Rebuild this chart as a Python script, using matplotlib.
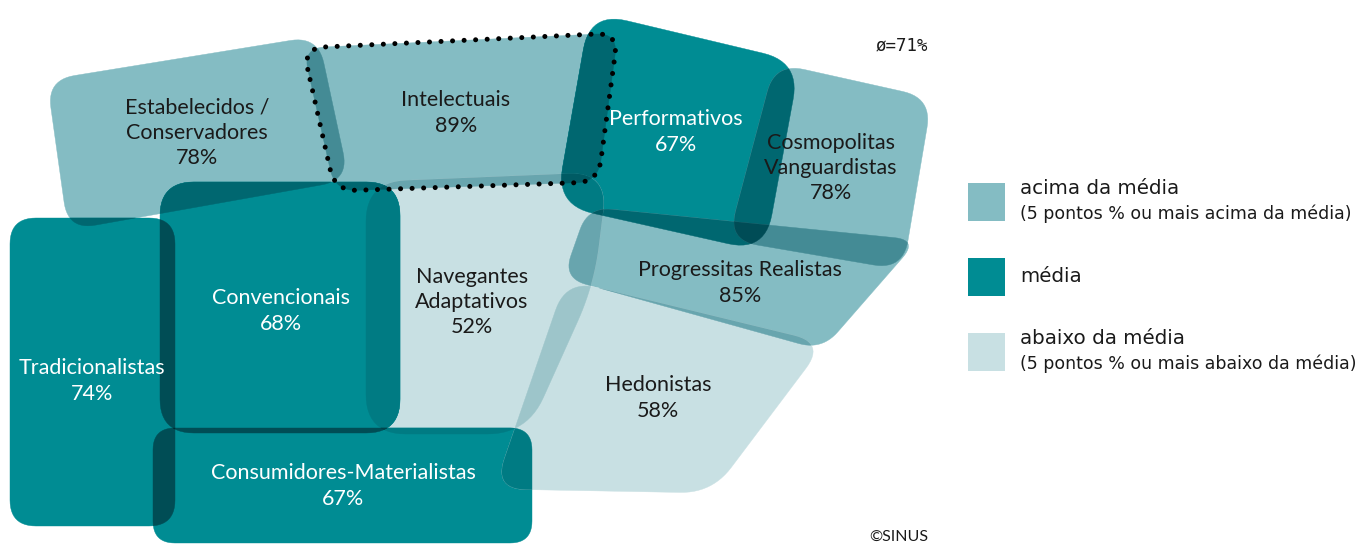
import numpy as np
import matplotlib.pyplot as plt
from matplotlib.patches import Polygon

# ── Data ──────────────────────────────────────────────────────────────────────
MILIEUS = [
    "Estabelecidos /\nConservadores", "Intelectuais", "Performativos",
    "Cosmopolitas\nVanguardistas", "Progressitas Realistas",
    "Navegantes\nAdaptativos", "Convencionais", "Tradicionalistas",
    "Consumidores-Materialistas", "Hedonistas",
]
SHARES = [78, 89, 67, 78, 85, 52, 68, 74, 67, 58]
LEVELS = ["acima", "acima", "media", "acima", "acima",
          "abaixo", "media", "media", "media", "abaixo"]
AVERAGE = 71

# map outline of each milieu (corner points, pixel space of the map)
SHAPES = [
    [(47, 80), (318, 36), (349, 180), (68, 230)],
    [(303, 48), (618, 33), (598, 182), (335, 191)],
    [(590, 12), (800, 62), (765, 252), (556, 205)],
    [(775, 63), (932, 98), (903, 270), (728, 240)],
    [(588, 207), (918, 240), (822, 350), (563, 278)],
    [(366, 182), (608, 172), (594, 285), (527, 434), (366, 434)],
    [(160, 182), (400, 182), (400, 433), (160, 433)],
    [(10, 218), (175, 218), (175, 526), (10, 526)],
    [(153, 428), (532, 428), (532, 543), (153, 543)],
    [(566, 280), (825, 343), (712, 493), (494, 489)],
]
RADII = [28, 22, 38, 30, 24, 40, 34, 26, 22, 32]
LABEL_POS = [(197, 133), (456, 113), (676, 132), (831, 168), (740, 283),
             (472, 302), (281, 311), (92, 381), (343, 486), (658, 398)]
HIGHLIGHT = 1  # Intelectuais

LEGEND = [
    ("acima", "acima da média", "(5 pontos % ou mais acima da média)"),
    ("media", "média", None),
    ("abaixo", "abaixo da média", "(5 pontos % ou mais abaixo da média)"),
]
COLORS = {"acima": "#84bcc3", "media": "#008c93", "abaixo": "#c8e0e3"}
TEXT_COLORS = {"acima": "#1a1a1a", "media": "white", "abaixo": "#1a1a1a"}


# ── Geometry helpers ──────────────────────────────────────────────────────────
def rounded(corners, r, n=14):
    pts = np.array(corners, float)
    out = []
    for i in range(len(pts)):
        a, p, b = pts[i - 1], pts[i], pts[(i + 1) % len(pts)]
        ua = (a - p) / np.linalg.norm(a - p)
        ub = (b - p) / np.linalg.norm(b - p)
        d = min(r, 0.45 * np.linalg.norm(a - p), 0.45 * np.linalg.norm(b - p))
        p1, p2 = p + d * ua, p + d * ub
        t = np.linspace(0, 1, n)[:, None]
        out.append((1 - t) ** 2 * p1 + 2 * (1 - t) * t * p + t ** 2 * p2)
    return np.vstack(out)


def area(poly):
    x, y = poly[:, 0], poly[:, 1]
    return 0.5 * np.sum(x * np.roll(y, -1) - np.roll(x, -1) * y)


def clip(subject, clipper):
    # Sutherland-Hodgman, clipper convex
    sign = np.sign(area(clipper))
    out = list(subject)
    for i in range(len(clipper)):
        if not out:
            break
        c1, c2 = clipper[i], clipper[(i + 1) % len(clipper)]

        def inside(q):
            return sign * ((c2[0] - c1[0]) * (q[1] - c1[1]) - (c2[1] - c1[1]) * (q[0] - c1[0])) >= 0

        def cross(p, q):
            d1 = p - q
            d2 = c1 - c2
            den = d1[0] * d2[1] - d1[1] * d2[0]
            t = ((c1[0] - q[0]) * d2[1] - (c1[1] - q[1]) * d2[0]) / den
            return q + t * d1

        inp, out = out, []
        s = inp[-1]
        for e in inp:
            if inside(e):
                if not inside(s):
                    out.append(cross(s, e))
                out.append(e)
            elif inside(s):
                out.append(cross(s, e))
            s = e
    return np.array(out) if len(out) >= 3 else None


polys = [rounded(c, r) for c, r in zip(SHAPES, RADII)]
rgb = [np.array(plt.matplotlib.colors.to_rgb(COLORS[lv])) for lv in LEVELS]

# every overlap region, coloured by multiplying the layers
regions = []


def collect(idx, poly, start):
    regions.append((idx, poly))
    for j in range(start, len(polys)):
        inter = clip(poly, polys[j])
        if inter is not None and abs(area(inter)) > 1:
            collect(idx + [j], inter, j + 1)


for i in range(len(polys)):
    collect([i], polys[i], i + 1)
regions.sort(key=lambda r: len(r[0]))

# ── Plot ──────────────────────────────────────────────────────────────────────
fig = plt.figure(figsize=(13.59, 5.45), dpi=100)
ax = fig.add_axes([0, 0, 1, 1])
ax.set_xlim(0, 1359)
ax.set_ylim(545, 0)
ax.axis("off")

for idx, poly in regions:
    col = np.prod([rgb[k] for k in idx], axis=0)
    ax.add_patch(Polygon(poly, closed=True, facecolor=col, edgecolor=col,
                         linewidth=0.3, zorder=1 + len(idx)))

ax.add_patch(Polygon(polys[HIGHLIGHT], closed=True, fill=False, edgecolor="black",
                     linewidth=3.6, linestyle=(0, (0.01, 2.3)), capstyle="round",
                     zorder=10))

label_font = ["Lato", "DejaVu Sans"]
for name, share, lv, (x, y) in zip(MILIEUS, SHARES, LEVELS, LABEL_POS):
    ax.text(x, y, f"{name}\n{share}%", ha="center", va="center",
            fontsize=15.5, family=label_font, color=TEXT_COLORS[lv],
            linespacing=1.32, zorder=20)

ax.text(876, 45, f"ø={AVERAGE}%", fontsize=12.5, family="DejaVu Sans Mono",
        va="center", ha="left", color="#1a1a1a")
ax.text(869, 537, "©SINUS", fontsize=11.5, family=label_font, va="center",
        ha="left", color="#1a1a1a")

for k, (lv, title, sub) in enumerate(LEGEND):
    y0 = 183 + k * 75
    ax.add_patch(plt.Rectangle((968, y0), 37, 38, facecolor=COLORS[lv],
                               edgecolor="none"))
    if sub:
        ax.text(1020, y0 + 6, title, fontsize=14.3, family="DejaVu Sans",
                va="center", ha="left", color="#1a1a1a")
        ax.text(1020, y0 + 31, sub, fontsize=12.5, family="DejaVu Sans",
                va="center", ha="left", color="#1a1a1a")
    else:
        ax.text(1020, y0 + 19, title, fontsize=14.3, family="DejaVu Sans",
                va="center", ha="left", color="#1a1a1a")

fig.savefig("out.png", dpi=100)
